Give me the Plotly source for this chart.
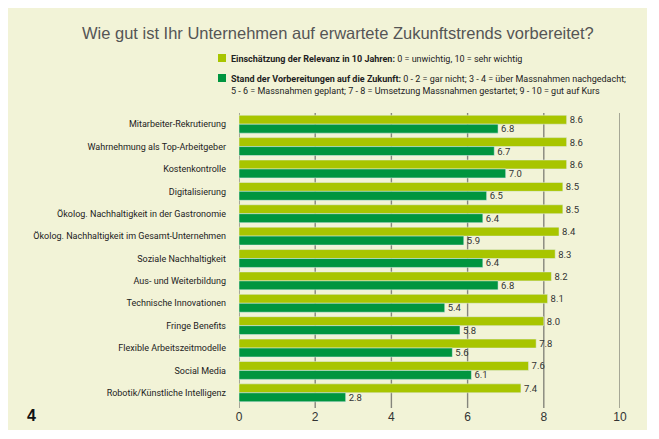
import plotly.graph_objects as go

categories = [
    "Mitarbeiter-Rekrutierung",
    "Wahrnehmung als Top-Arbeitgeber",
    "Kostenkontrolle",
    "Digitalisierung",
    "Ökolog. Nachhaltigkeit in der Gastronomie",
    "Ökolog. Nachhaltigkeit im Gesamt-Unternehmen",
    "Soziale Nachhaltigkeit",
    "Aus- und Weiterbildung",
    "Technische Innovationen",
    "Fringe Benefits",
    "Flexible Arbeitszeitmodelle",
    "Social Media",
    "Robotik/Künstliche Intelligenz",
]
relevanz = [8.6, 8.6, 8.6, 8.5, 8.5, 8.4, 8.3, 8.2, 8.1, 8.0, 7.8, 7.6, 7.4]
vorbereitung = [6.8, 6.7, 7.0, 6.5, 6.4, 5.9, 6.4, 6.8, 5.4, 5.8, 5.6, 6.1, 2.8]
x_ticks = [0, 2, 4, 6, 8, 10]

title = "Wie gut ist Ihr Unternehmen auf erwartete Zukunftstrends vorbereitet?"
legend1 = "<b>Einschätzung der Relevanz in 10 Jahren:</b> 0 = unwichtig, 10 = sehr wichtig"
legend2 = ("<b>Stand der Vorbereitungen auf die Zukunft:</b> 0 - 2 = gar nicht; 3 - 4 = über Massnahmen nachgedacht;"
           "<br>5 - 6 = Massnahmen geplant; 7 - 8 = Umsetzung Massnahmen gestartet; 9 - 10 = gut auf Kurs")

LIGHT = "#A8C500"
DARK = "#00953F"
BG = "#F2F3D7"
NARROW = "Roboto, sans-serif"
MAIN = "Liberation Sans, Arial, sans-serif"

# layout geometry (figure pixels); page adds an 8px body offset
OFF = 8
L, W, T, PH = 231, 381, 105, 291
FW, FH = 659, 439


def px(sx):
    return (sx - OFF - L) / W


def py(sy):
    return (T + PH - (sy - OFF)) / PH


fig = go.Figure()
for vals, col, nm in [(relevanz, LIGHT, "Relevanz"), (vorbereitung, DARK, "Vorbereitung")]:
    fig.add_trace(go.Bar(
        y=categories, x=vals, orientation="h", marker_color=col,
        text=[f"{v:.1f}" for v in vals], textposition="outside",
        textfont=dict(size=9.5, color="#333", family=NARROW), cliponaxis=False,
        constraintext="none", name=nm,
    ))

shapes = [
    dict(type="rect", xref="paper", yref="paper", x0=px(8), x1=px(647),
         y0=py(430), y1=py(8), fillcolor=BG, line_width=0, layer="below"),
]
for t in x_ticks:
    shapes.append(dict(type="line", xref="x", yref="paper", x0=t, x1=t, y0=py(408), y1=1.0,
                       line=dict(color="#A6A796" if t == 10 else "#85857C", width=2 if t == 10 else 1.4),
                       layer="below"))
shapes.append(dict(type="rect", xref="paper", yref="paper",
                   x0=px(218), x1=px(226), y0=py(62), y1=py(54),
                   fillcolor=LIGHT, line_width=0))
shapes.append(dict(type="rect", xref="paper", yref="paper",
                   x0=px(218), x1=px(226), y0=py(82), y1=py(74),
                   fillcolor=DARK, line_width=0))

annotations = [
    dict(text=title, xref="paper", yref="paper", x=px(337.5), y=py(33),
         xanchor="center", yanchor="middle", showarrow=False,
         font=dict(size=16.5, color="#555", family=MAIN)),
    dict(text=legend1, xref="paper", yref="paper", x=px(229), y=py(58.5),
         xanchor="left", yanchor="middle", showarrow=False, align="left",
         font=dict(size=9, color="#222", family=NARROW)),
    dict(text=legend2, xref="paper", yref="paper", x=px(229), y=py(85),
         xanchor="left", yanchor="middle", showarrow=False, align="left",
         font=dict(size=9, color="#222", family=NARROW)),
    dict(text="<b>4</b>", xref="paper", yref="paper", x=px(25), y=py(415),
         xanchor="left", yanchor="middle", showarrow=False,
         font=dict(size=16, color="#111", family=MAIN)),
]

fig.update_layout(
    width=FW, height=FH,
    margin=dict(l=L, r=FW - L - W, t=T, b=FH - T - PH, autoexpand=False),
    paper_bgcolor="white", plot_bgcolor="rgba(0,0,0,0)",
    barmode="group", bargap=0.2, bargroupgap=0,
    showlegend=False,
    shapes=shapes, annotations=annotations,
    xaxis=dict(range=[0, 10], tickvals=x_ticks, showgrid=False, zeroline=False,
               showline=False, ticks="", tickfont=dict(size=12, color="#333", family=MAIN),
               ticklabelstandoff=4),
    yaxis=dict(autorange="reversed", showgrid=False, zeroline=False, showline=False,
               ticks="", tickfont=dict(size=9, color="#222", family=NARROW),
               ticklabelstandoff=12),
)

fig.write_html("out.html")
